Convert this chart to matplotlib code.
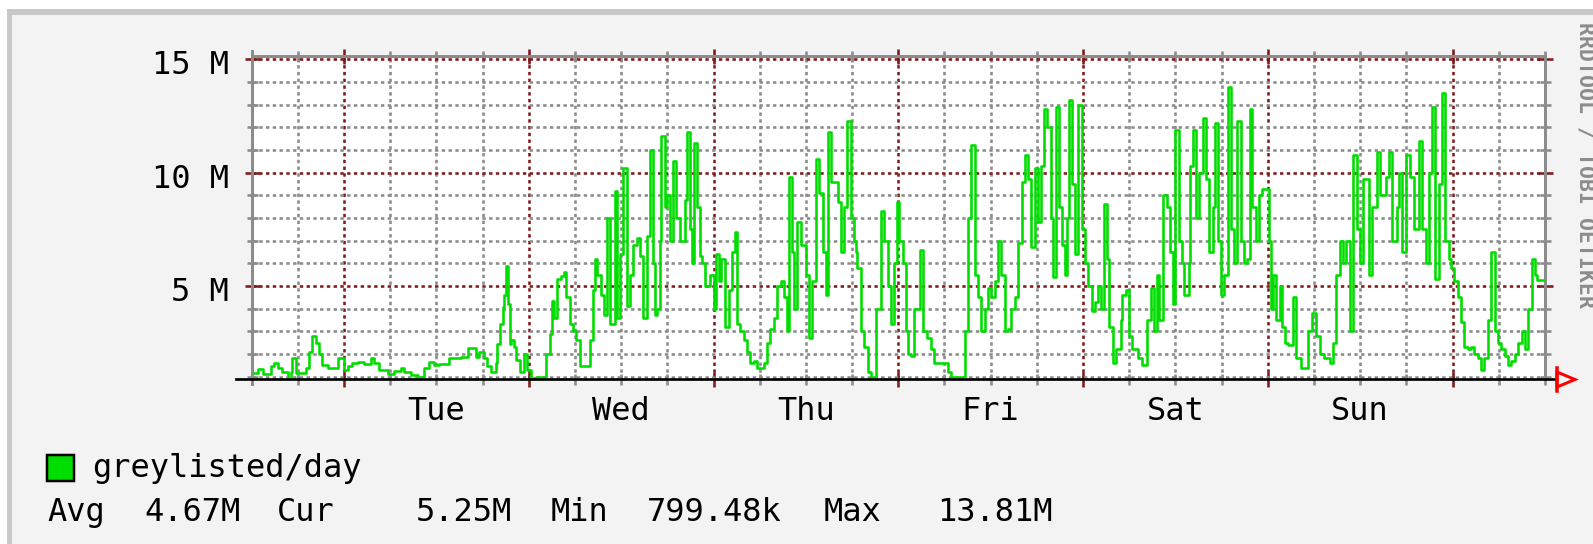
import numpy as np
import matplotlib
matplotlib.use('Agg')
import matplotlib.pyplot as plt
import matplotlib.transforms as mtransforms
from matplotlib.patches import Rectangle, Polygon
from matplotlib.lines import Line2D

# hours since Monday 12:00, value in millions (step series)
hours_mon = [0, 0.8, 1.5, 2.5, 2.9, 3.4, 4.0, 4.7, 5.1, 5.3, 5.8, 7.1, 7.5, 7.9,
             8.4, 8.8, 9.2, 9.9, 11.2]
vals_mon = [1.15, 1.35, 1.1, 1.45, 1.6, 1.4, 1.2, 0.8, 1.2, 1.8, 1.15, 1.4, 2.1, 2.8,
            2.5, 2.0, 1.5, 1.4, 1.8]

hours_tue = [12.0, 12.5, 13.1, 13.8, 14.6, 15.5, 15.9, 16.6, 17.7, 18.5, 19.4, 19.8,
             20.7, 21.6, 22.4, 23.1, 23.7, 24.4, 25.7, 26.3, 27.2, 28.1, 29.1, 29.6,
             30.2, 30.6, 31.1, 31.7, 31.9, 32.2, 32.6, 32.8, 33.1, 33.3, 33.5, 33.7,
             34.1, 34.3, 34.8, 35.4, 35.8]
vals_tue = [1.3, 1.45, 1.6, 1.65, 1.55, 1.8, 1.6, 1.3, 1.1, 1.25, 1.4, 1.2,
            1.05, 1.0, 1.4, 1.65, 1.5, 1.55, 1.8, 1.8, 1.85, 2.25, 1.85, 2.1,
            1.8, 1.45, 1.2, 1.6, 2.45, 3.3, 4.05, 4.6, 5.9, 4.2, 2.45, 2.6,
            2.3, 1.75, 1.2, 2.0, 1.3]

hours_wed = [36.3, 36.9, 38.2, 38.7, 39.0, 39.3, 39.7, 40.2, 40.6, 40.8, 41.3, 41.7,
             42.1, 42.6, 43.9, 44.3, 44.6, 44.9, 45.4, 45.8, 46.1, 46.5, 47.2, 47.5,
             47.8, 48.3, 48.8, 49.1, 49.5, 50.0, 50.4, 50.9, 51.3, 51.7, 52.1, 52.4,
             52.7, 53.0, 53.2, 53.7, 53.9, 54.3, 54.8, 55.1, 55.6, 56.3, 56.5, 56.9,
             57.2, 57.5, 57.8, 58.2, 58.5, 58.9, 59.6]
vals_wed = [0.95, 1.0, 2.0, 2.9, 4.35, 3.6, 5.3, 5.45, 5.6, 4.5, 3.3, 3.0,
            2.6, 1.45, 2.6, 4.8, 6.2, 5.5, 4.6, 3.7, 8.0, 3.3, 9.2, 3.6,
            6.4, 10.2, 4.1, 5.5, 6.8, 7.1, 6.3, 3.6, 7.2, 11.0, 6.0, 3.7,
            4.0, 7.0, 11.6, 8.5, 9.0, 7.0, 10.5, 8.0, 7.0, 8.8, 11.8, 7.5,
            6.0, 11.3, 8.5, 6.3, 6.0, 5.0, 5.5]

hours_thu = [60.0, 60.3, 60.7, 61.0, 61.5, 62.0, 62.4, 62.8, 63.1, 63.5, 63.9, 64.4,
             64.8, 65.2, 65.7, 66.5, 67.0, 67.4, 67.8, 68.3, 68.7, 69.1, 69.5, 69.8,
             70.2, 70.5, 70.9, 71.3, 72.0, 72.4, 72.8, 73.3, 73.7, 74.2, 74.6, 74.9,
             75.2, 76.2, 76.6, 76.9, 77.4, 77.9, 78.2, 78.5, 78.7, 79.1, 79.6, 80.0,
             80.4, 81.1, 81.7, 82.2, 82.6, 83.0, 83.4, 83.8]
vals_thu = [4.0, 6.4, 5.2, 6.2, 3.2, 4.8, 6.5, 7.4, 3.3, 3.0, 2.6, 2.1,
            1.6, 1.7, 1.4, 1.6, 2.5, 3.1, 3.6, 5.0, 5.2, 4.5, 3.0, 9.8,
            6.5, 4.0, 7.8, 6.8, 5.5, 2.7, 5.2, 10.6, 9.1, 6.5, 4.6, 11.8,
            9.6, 8.7, 6.5, 8.5, 12.3, 8.0, 7.0, 6.5, 5.8, 3.0, 2.3, 1.2,
            1.0, 4.0, 8.3, 7.0, 5.0, 3.3, 6.0, 8.7]

hours_fri = [84.1, 84.6, 85.0, 85.3, 85.7, 86.1, 86.8, 87.2, 87.7, 88.3, 88.7, 90.5,
             90.9, 92.7, 93.1, 93.5, 93.9, 94.3, 94.8, 95.3, 95.7, 96.1, 96.6, 97.0,
             97.4, 97.8, 98.3, 98.7, 99.1, 99.5, 100.1, 100.4, 100.8, 101.2, 101.7,
             102.1, 102.5, 102.9, 103.3, 103.8, 104.1, 104.5, 104.9, 105.3, 105.6,
             105.9, 106.2, 106.6, 107.0, 107.4, 107.8]
vals_fri = [7.0, 6.0, 3.0, 2.0, 1.9, 4.0, 6.6, 3.0, 2.7, 2.2, 1.6, 1.2,
            1.0, 3.0, 8.0, 11.2, 5.5, 4.5, 3.0, 4.0, 4.9, 4.5, 5.2, 7.0,
            5.5, 3.0, 3.1, 4.0, 4.5, 6.9, 9.6, 10.8, 9.7, 6.7, 10.2,
            7.8, 10.3, 12.8, 12.0, 8.0, 5.4, 12.9, 8.5, 6.8, 5.5,
            8.0, 13.2, 9.5, 6.4, 13.0, 7.5]

hours_sat = [108.3, 108.7, 109.1, 109.5, 109.9, 110.3, 110.7, 111.1, 111.4, 111.9,
             112.3, 112.9, 113.1, 113.6, 114.0, 114.4, 115.1, 115.7, 116.3, 116.8,
             117.2, 117.6, 117.8, 118.4, 118.9, 119.3, 119.7, 120.0, 120.4, 120.8,
             121.1, 121.7, 121.9, 122.3, 122.7, 123.1, 123.6, 124.0, 124.3, 124.9,
             125.1, 125.5, 125.9, 126.3, 126.8, 127.2, 127.6, 128.0, 128.5, 128.9,
             129.3, 129.7, 130.0, 130.5, 130.8, 131.2]
vals_sat = [6.0, 5.0, 3.9, 4.3, 5.0, 4.0, 8.6, 6.2, 3.2, 1.6,
            2.2, 3.5, 4.6, 4.8, 2.8, 2.2, 1.8, 1.5, 3.5, 4.9,
            3.0, 5.5, 3.5, 9.0, 8.5, 6.5, 4.2, 11.9, 7.0, 6.0,
            4.6, 6.0, 10.3, 11.9, 8.0, 10.0, 12.4, 9.7, 6.5, 8.5,
            12.2, 7.0, 4.6, 5.5, 13.8, 7.5, 6.0, 12.3, 7.0, 6.0,
            6.2, 12.8, 8.5, 7.0, 9.0, 9.3]

hours_sun = [132.1, 132.4, 132.7, 133.1, 133.6, 133.9, 134.2, 134.6, 135.3, 135.7,
             136.3, 137.2, 137.7, 138.3, 138.8, 139.3, 140.1, 140.5, 140.9, 141.4,
             141.8, 142.2, 142.7, 143.1, 143.6, 144.0, 144.4, 145.1, 145.5, 146.2,
             146.6, 147.3, 147.7, 148.1, 148.8, 149.0, 149.4, 149.9, 150.5, 151.0,
             151.6, 152.0, 152.5, 152.9, 153.3, 153.7, 154.2, 154.6, 155.0, 155.5]
vals_sun = [7.0, 4.0, 5.5, 3.5, 5.0, 3.2, 2.5, 2.4, 4.5, 1.8,
            1.4, 3.0, 3.8, 2.8, 2.0, 1.8, 1.6, 2.5, 5.5, 7.0,
            6.0, 7.0, 3.0, 10.8, 7.5, 6.0, 9.7, 5.5, 8.5, 10.9,
            9.0, 9.8, 10.9, 7.0, 8.5, 10.0, 6.5, 10.8, 9.8, 7.5,
            11.4, 7.5, 6.0, 10.0, 12.9, 5.3, 9.5, 13.5, 7.0, 6.2]

hours_mon2 = [155.8, 156.2, 156.7, 157.1, 157.5, 158.0, 158.4, 158.8, 159.3, 159.7,
              160.1, 160.6, 161.0, 161.5, 161.9, 162.3, 162.8, 163.2, 163.6, 164.1,
              164.5, 165.0, 165.4, 165.8, 166.3, 166.7, 167.0, 168.0]
vals_mon2 = [5.8, 5.2, 4.5, 3.4, 2.3, 2.2, 2.3, 2.0, 1.8, 1.3,
             1.8, 3.5, 6.5, 3.0, 2.5, 2.2, 1.9, 1.5, 1.7, 2.0,
             2.5, 3.0, 2.2, 4.0, 6.2, 5.5, 5.25, 5.25]

hours = hours_mon + hours_tue + hours_wed + hours_thu + hours_fri + hours_sat + hours_sun + hours_mon2
values = vals_mon + vals_tue + vals_wed + vals_thu + vals_fri + vals_sat + vals_sun + vals_mon2

day_labels = ['Tue', 'Wed', 'Thu', 'Fri', 'Sat', 'Sun']
day_noon = [24, 48, 72, 96, 120, 144]
midnights = [12, 36, 60, 84, 108, 132, 156]
six_hours = [h for h in range(0, 169, 6) if h not in midnights]
y_major = [5, 10, 15]
y_major_labels = ['5 M', '10 M', '15 M']
y_minor = [v for v in range(1, 15) if v not in y_major]

legend_name = 'greylisted/day'
stat_tokens = ['Avg', '4.67M', 'Cur', '5.25M', 'Min', '799.48k', 'Max', '13.81M']
stat_x = [47, 144, 277, 416, 551, 647, 824, 937]

GREEN = '#00DD00'
DARKRED = '#801C1C'
GRAY = '#8C8C8C'
BG = '#F3F3F3'
PT = 0.72  # points per pixel at dpi 100

plt.rcParams['font.family'] = ['DejaVu Sans Mono']

W, H = 1593, 544
fig = plt.figure(figsize=(W / 100, H / 100), dpi=100, facecolor=BG)


def fx(x):
    return x / W


def fy(y):
    return 1 - y / H


# outer frame (white edge, light grey band on top and left)
fig.patches.append(Rectangle((0, fy(9)), 1, 9 / H, transform=fig.transFigure,
                             facecolor='white', lw=0))
fig.patches.append(Rectangle((0, 0), 7.3 / W, 1, transform=fig.transFigure,
                             facecolor='white', lw=0))
fig.patches.append(Rectangle((fx(7.3), fy(15)), 1, 6 / H, transform=fig.transFigure,
                             facecolor='#C8C8C8', lw=0))
fig.patches.append(Rectangle((fx(7.3), 0), 5 / W, fy(9), transform=fig.transFigure,
                             facecolor='#C8C8C8', lw=0))

ax = fig.add_axes([fx(251.6), fy(379.3), (1545 - 251.6) / W, (379.3 - 55.5) / H])
ax.set_facecolor('white')
ax.set_xlim(0, 168)
ax.set_ylim(0.88, 15.17)

ax.set_xticks(midnights)
ax.set_xticks(six_hours, minor=True)
ax.set_yticks(y_major)
ax.set_yticks(y_minor, minor=True)
ax.set_axisbelow(True)
dots = (0, (1.3, 1.3))
ax.grid(which='minor', color=GRAY, linestyle=dots, linewidth=2.6 * PT)
ax.grid(which='major', color=DARKRED, linestyle=dots, linewidth=2.6 * PT)
ax.tick_params(which='both', direction='inout', top=True, right=True,
               labelleft=False, labelbottom=False)
ax.tick_params(which='major', color=DARKRED, length=15 * PT, width=2.6 * PT)
ax.tick_params(which='minor', color=GRAY, length=11 * PT, width=2.6 * PT)

for side in ['top', 'left', 'right']:
    ax.spines[side].set_color(GRAY)
    ax.spines[side].set_linewidth(3 * PT)
ax.spines['bottom'].set_visible(False)

ax.plot(hours, values, drawstyle='steps-post', color=GREEN, lw=2.6 * PT, zorder=3)

# axis lines extending past the plot area, and the arrow
fig.lines.append(Line2D([fx(251.6), fx(251.6)], [fy(51), fy(384)], color=GRAY,
                        lw=3 * PT, transform=fig.transFigure))
fig.lines.append(Line2D([fx(236), fx(1555)], [fy(379.3), fy(379.3)], color='black',
                        lw=2.7 * PT, transform=fig.transFigure))
fig.lines.append(Line2D([fx(1557), fx(1557)], [fy(368), fy(391)], color='red',
                        lw=3.5 * PT, transform=fig.transFigure))
fig.patches.append(Polygon([(fx(1557), fy(372)), (fx(1575), fy(379.5)),
                            (fx(1557), fy(387))], closed=True, fill=False,
                           edgecolor='red', lw=3 * PT, transform=fig.transFigure))

# tick labels
ylab_trans = mtransforms.blended_transform_factory(fig.transFigure, ax.transData) + \
    mtransforms.ScaledTranslation(0, -15 / 100, fig.dpi_scale_trans)
for v, lab in zip(y_major, y_major_labels):
    fig.text(fx(229), v, lab, transform=ylab_trans, ha='right', va='baseline',
             fontsize=23, color='black')

xlab_trans = mtransforms.blended_transform_factory(ax.transData, fig.transFigure)
for h, lab in zip(day_noon, day_labels):
    fig.text(h, fy(420), lab, transform=xlab_trans, ha='center', va='baseline',
             fontsize=23, color='black')

# legend
fig.patches.append(Rectangle((fx(47), fy(481)), 27 / W, 26 / H, transform=fig.transFigure,
                             facecolor=GREEN, edgecolor='black', lw=2.5 * PT))
fig.text(fx(92), fy(477), legend_name, ha='left', va='baseline', fontsize=23)
for tok, x in zip(stat_tokens, stat_x):
    fig.text(fx(x), fy(521), tok, ha='left', va='baseline', fontsize=23)

fig.text(fx(1585), fy(22), 'RRDTOOL / TOBI OETIKER', rotation=270, ha='center',
         va='top', color='#8C8C8C', fontsize=15.5, fontweight='bold')

fig.savefig('out.png', dpi=100, facecolor=BG)
